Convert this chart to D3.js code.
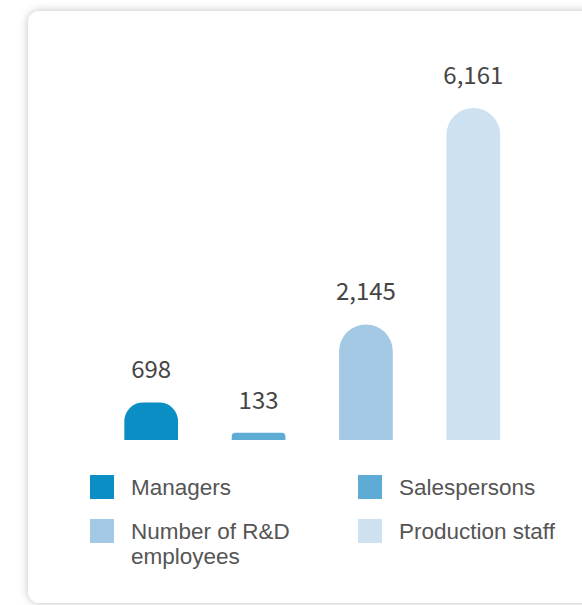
<!DOCTYPE html>
<html>
<head>
<meta charset="utf-8">
<script src="https://cdn.jsdelivr.net/npm/d3@7"></script>
<style>
  html, body { margin: 0; padding: 0; background: #ffffff; }
  svg { display: block; }
</style>
</head>
<body>
<svg id="chart" width="582" height="605"></svg>
<script>
// Employee structure by role
const categories = ["Managers", "Salespersons", "Number of R&D employees", "Production staff"];
const values = [698, 133, 2145, 6161];
const colors = ["#0a8ec3", "#5eacd6", "#a3c9e4", "#cde1f1"];
const legendLines = [["Managers"], ["Salespersons"], ["Number of R&D", "employees"], ["Production staff"]];

const svg = d3.select("#chart");

// card with soft shadow
const defs = svg.append("defs");
const f = defs.append("filter").attr("id", "shadow")
  .attr("x", "-10%").attr("y", "-10%").attr("width", "120%").attr("height", "120%");
f.append("feDropShadow").attr("dx", 0).attr("dy", 0).attr("stdDeviation", 4)
  .attr("flood-color", "#000").attr("flood-opacity", 0.25);

svg.append("rect")
  .attr("x", 28).attr("y", 11).attr("width", 600).attr("height", 592)
  .attr("rx", 12).attr("ry", 12)
  .attr("fill", "#ffffff")
  .attr("filter", "url(#shadow)");

const baseline = 440;
const x = d3.scaleBand().domain(categories).range([97.5, 527]).paddingInner(0.5).paddingOuter(0.25);
const y = d3.scaleLinear().domain([0, 6161]).range([baseline, 108]);

// bar with rounded top
function barPath(x0, w, yTop) {
  const h = baseline - yTop;
  const r = Math.min(w / 2, h / 2);
  return `M${x0},${baseline}V${yTop + r}` +
    `A${r},${r} 0 0 1 ${x0 + r},${yTop}` +
    `H${x0 + w - r}` +
    `A${r},${r} 0 0 1 ${x0 + w},${yTop + r}` +
    `V${baseline}Z`;
}

const g = svg.append("g");
g.selectAll("path.bar").data(values).join("path")
  .attr("class", "bar")
  .attr("d", (d, i) => barPath(x(categories[i]), x.bandwidth(), y(d)))
  .attr("fill", (d, i) => colors[i]);

const fmt = d3.format(",");
g.selectAll("text.val").data(values).join("text")
  .attr("class", "val")
  .attr("x", (d, i) => x(categories[i]) + x.bandwidth() / 2)
  .attr("y", d => y(d) - 24)
  .attr("text-anchor", "middle")
  .attr("font-family", "'Noto Sans CJK SC', 'Noto Sans', sans-serif")
  .attr("font-size", 24)
  .attr("fill", "#454545")
  .text(d => fmt(d));

// legend
const legendPos = [[90, 475], [358, 475], [90, 519], [358, 519]];
const lg = svg.append("g");
legendLines.forEach((lines, i) => {
  const [lx, ly] = legendPos[i];
  lg.append("rect").attr("x", lx).attr("y", ly).attr("width", 24).attr("height", 24).attr("fill", colors[i]);
  const t = lg.append("text")
    .attr("x", lx + 41).attr("y", ly + 20)
    .attr("font-family", "'Liberation Sans', Arial, sans-serif")
    .attr("font-size", 22.5)
    .attr("fill", "#555555");
  lines.forEach((ln, j) => {
    t.append("tspan").attr("x", lx + 41).attr("dy", j === 0 ? 0 : 25).text(ln);
  });
});
</script>
</body>
</html>
